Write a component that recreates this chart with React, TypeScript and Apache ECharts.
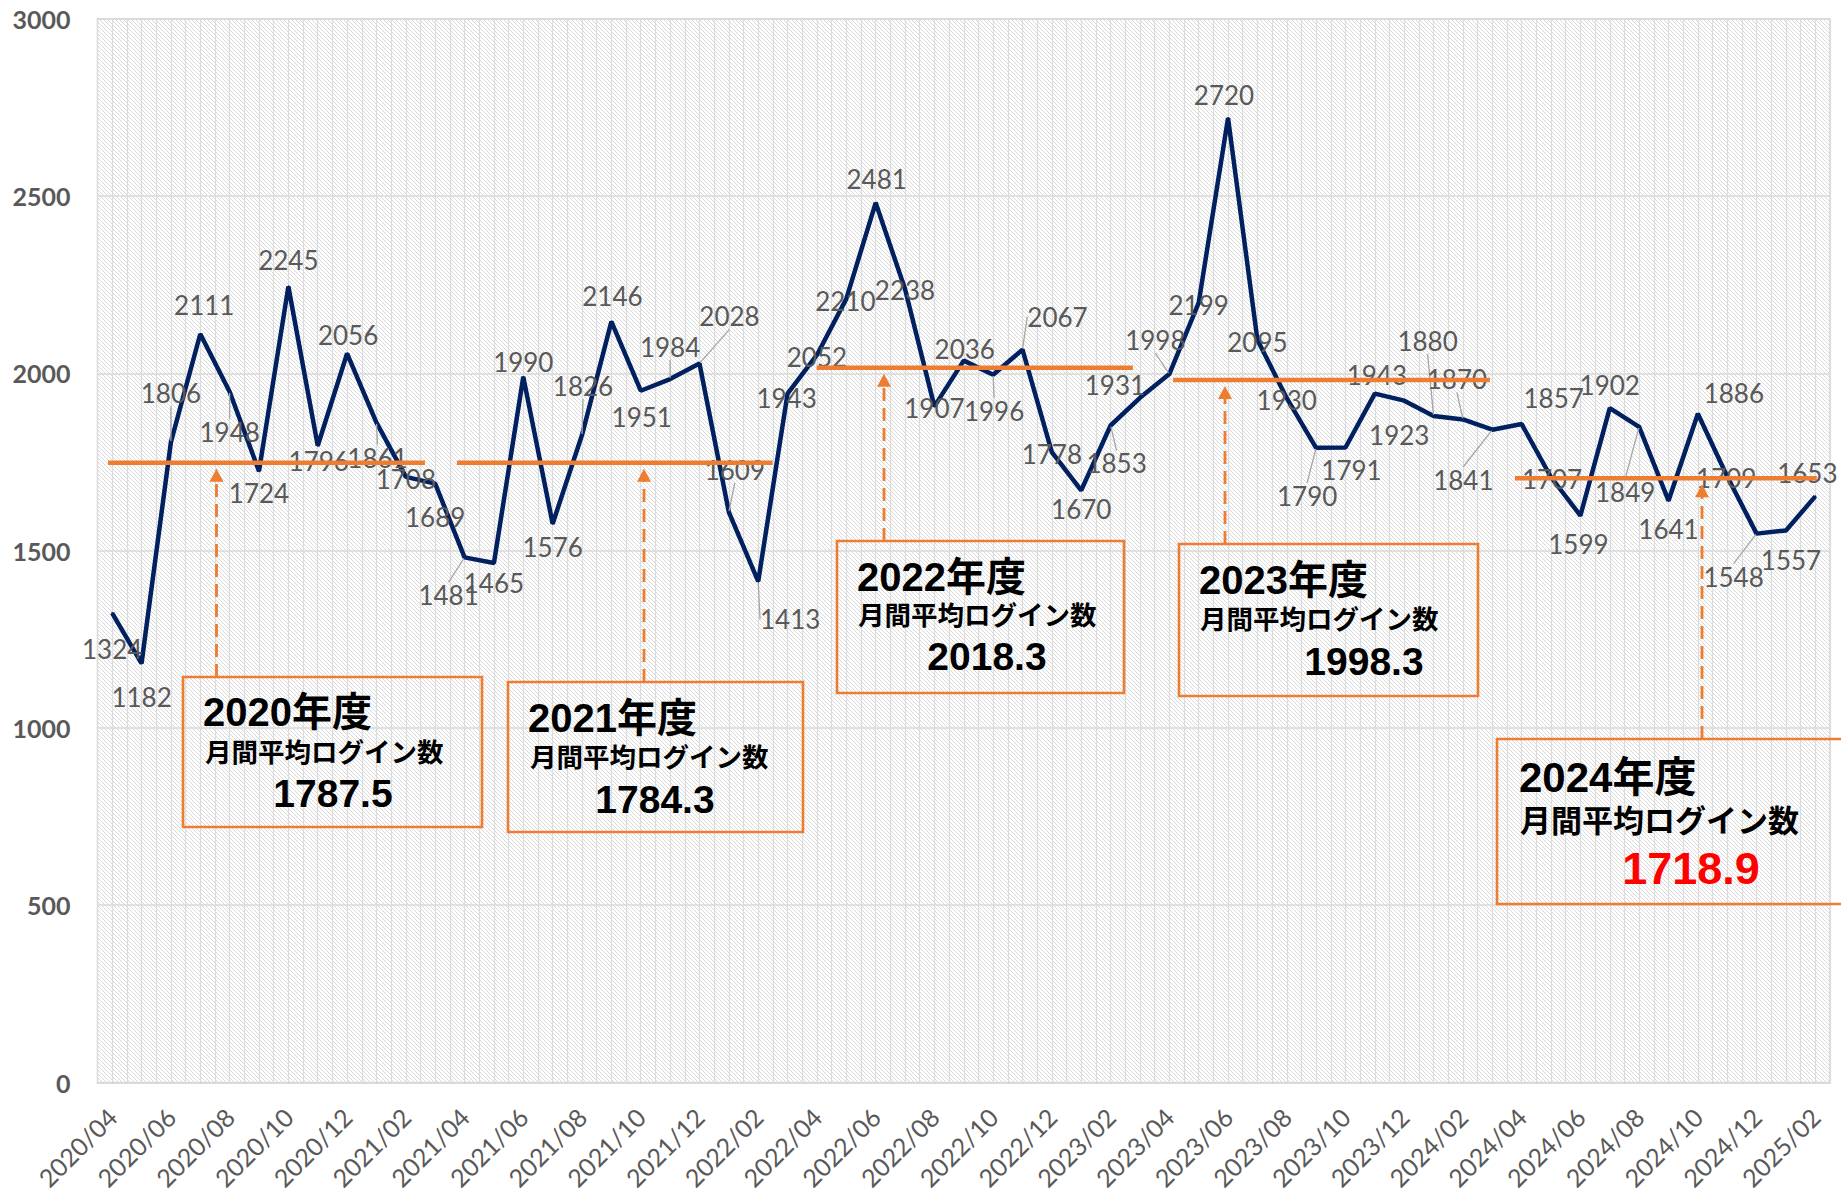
import React, { useEffect, useRef } from "react";
import * as echarts from "echarts";

const months = [
  "2020/04", "2020/05", "2020/06", "2020/07", "2020/08", "2020/09", "2020/10", "2020/11", "2020/12", "2021/01", "2021/02", "2021/03",
  "2021/04", "2021/05", "2021/06", "2021/07", "2021/08", "2021/09", "2021/10", "2021/11", "2021/12", "2022/01", "2022/02", "2022/03",
  "2022/04", "2022/05", "2022/06", "2022/07", "2022/08", "2022/09", "2022/10", "2022/11", "2022/12", "2023/01", "2023/02", "2023/03",
  "2023/04", "2023/05", "2023/06", "2023/07", "2023/08", "2023/09", "2023/10", "2023/11", "2023/12", "2024/01", "2024/02", "2024/03",
  "2024/04", "2024/05", "2024/06", "2024/07", "2024/08", "2024/09", "2024/10", "2024/11", "2024/12", "2025/01", "2025/02",
];

const logins = [
  1324, 1182, 1806, 2111, 1948, 1724, 2245, 1796, 2056, 1861, 1708, 1689,
  1481, 1465, 1990, 1576, 1826, 2146, 1951, 1984, 2028, 1609, 1413, 1943,
  2052, 2210, 2481, 2238, 1907, 2036, 1996, 2067, 1778, 1670, 1853, 1931,
  1998, 2199, 2720, 2095, 1930, 1790, 1791, 1943, 1923, 1880, 1870, 1841,
  1857, 1707, 1599, 1902, 1849, 1641, 1886, 1709, 1548, 1557, 1653,
];

const yTicks = [0, 500, 1000, 1500, 2000, 2500, 3000];

const fyNames = ["2020年度", "2021年度", "2022年度", "2023年度", "2024年度"];
const fyAverageTexts = ["1787.5", "1784.3", "2018.3", "1998.3", "1718.9"];
const fySubTitle = "月間平均ログイン数";
// level at which the orange average bar is drawn in the picture
const fyBarLevels = [1748, 1748, 2016, 1981, 1704];
// extent of each orange bar, in month-index units
const fyBarStart = [-0.14, 11.74, 23.99, 36.13, 47.77];
const fyBarEnd = [10.65, 22.49, 34.76, 46.92, 58.05];

// label offsets (layout only)
const labelOffsets: [number, number][] = [
  [0, 36], [0, 34], [0, -49], [4, -29], [0, 40], [0, 22], [0, -26], [1, 15], [1, -19], [1, 35], [0, 2], [0, 33],
  [-16, 38], [0, 20], [0, -15], [0, 23], [1, -49], [1, -26], [1, 26], [0, -32], [30, -47], [6, -42], [32, 38], [-1, 4],
  [0, 2], [-1, 2], [1, -24], [0, 1], [0, 2], [1, -12], [1, 36], [35, -33], [0, 2], [0, 19], [6, 38], [-25, -13],
  [-14, -34], [0, 2], [-4, -23], [0, 2], [0, 2], [-9, 48], [6, 23], [2, -19], [-5, 34], [-6, -75], [-6, -40], [-29, 50],
  [32, -26], [1, 2], [-2, 28], [0, -23], [-14, 65], [0, 28], [36, -21], [-1, 1], [-23, 43], [5, 30], [-8, -23],
];
const leaderIdx = [2, 4, 9, 12, 16, 19, 20, 21, 22, 30, 31, 34, 36, 41, 45, 46, 47, 52, 56];

// annotation boxes (pixel layout)
const boxes = [
  { x: 183, y: 677, w: 299, h: 150, tdx: 20, tdy: 35, sdx: 22, sdy: 76, vcx: 333, vdy: 116, tSize: 40, sSize: 26.5, vSize: 39, vColor: "#000000", ax: 216.5 },
  { x: 508, y: 682, w: 295, h: 150, tdx: 20, tdy: 36, sdx: 22, sdy: 76, vcx: 655, vdy: 117, tSize: 40, sSize: 26.5, vSize: 39, vColor: "#000000", ax: 644 },
  { x: 837, y: 541, w: 287, h: 152, tdx: 20, tdy: 36, sdx: 21, sdy: 75, vcx: 987, vdy: 115, tSize: 40, sSize: 26.5, vSize: 39, vColor: "#000000", ax: 884 },
  { x: 1179, y: 544, w: 299, h: 152, tdx: 20, tdy: 36, sdx: 21, sdy: 76, vcx: 1364, vdy: 117, tSize: 40, sSize: 26.5, vSize: 39, vColor: "#000000", ax: 1225 },
  { x: 1497, y: 739, w: 352, h: 165, tdx: 22, tdy: 38, sdx: 23, sdy: 82, vcx: 1691, vdy: 129, tSize: 42, sSize: 31, vSize: 45, vColor: "#FF0000", ax: 1702 },
];

const ORANGE = "#ED7D31";
const NAVY = "#002060";
const GRAY = "#595959";
const BOX_FONT = "'Liberation Sans', 'Noto Sans CJK JP', sans-serif";

export default function App() {
  const ref = useRef<HTMLDivElement>(null);

  useEffect(() => {
    if (!ref.current) return;
    const chart = echarts.init(ref.current, null, { renderer: "svg" });

    const cv = document.createElement("canvas");
    cv.width = 8;
    cv.height = 8;
    const ctx = cv.getContext("2d")!;
    ctx.fillStyle = "#ffffff";
    ctx.fillRect(0, 0, 8, 8);
    ctx.fillStyle = "#dadada";
    for (let i = 0; i < 8; i++) {
      ctx.fillRect(i, i, 1, 1);
      ctx.fillRect((i + 4) % 8, i, 1, 1);
    }

    const mainData = logins.map((v, i) => {
      const item: any = {
        value: v,
        label: { offset: labelOffsets[i] },
      };
      if (leaderIdx.includes(i)) {
        item.labelLine = { show: true, lineStyle: { color: "#a6a6a6", width: 1.3 } };
      }
      return item;
    });

    const barSeries = fyBarLevels.map((lv, k) => ({
      type: "line",
      xAxisIndex: 1,
      yAxisIndex: 0,
      data: [
        [fyBarStart[k], lv],
        [fyBarEnd[k], lv],
      ],
      symbol: "none",
      silent: true,
      z: 6,
      lineStyle: { color: ORANGE, width: 4.5 },
    }));

    chart.setOption({
      animation: false,
      grid: {
        left: 97.5,
        right: 11,
        top: 18.8,
        bottom: 110.5,
        show: true,
        backgroundColor: { image: cv, repeat: "repeat", imageWidth: 8, imageHeight: 8 },
        borderColor: "#d9d9d9",
        borderWidth: 1.5,
      },
      xAxis: [
        {
          type: "category",
          data: months,
          boundaryGap: true,
          axisTick: { show: false },
          axisLine: { show: true, lineStyle: { color: "#d9d9d9", width: 2 } },
          splitLine: { show: false },
          axisLabel: {
            interval: 1,
            rotate: 45,
            fontSize: 25,
            color: GRAY,
            fontFamily: "Lato",
            margin: 30,
          },
        },
        {
          type: "value",
          min: -0.5,
          max: 58.5,
          interval: 0.5,
          position: "bottom",
          axisLabel: { show: false },
          axisTick: { show: false },
          axisLine: { show: false },
          splitLine: { show: true, lineStyle: { color: "#dcdcdc", width: 1.2 } },
        },
      ],
      yAxis: {
        type: "value",
        min: yTicks[0],
        max: yTicks[yTicks.length - 1],
        interval: 500,
        axisLine: { show: false },
        axisTick: { show: false },
        axisLabel: {
          fontSize: 25,
          fontWeight: "bold",
          color: GRAY,
          fontFamily: "Lato",
          margin: 27,
          formatter: (v: number) => String(v),
        },
        splitLine: { show: true, lineStyle: { color: "#d9d9d9", width: 1.5 } },
      },
      series: [
        {
          type: "line",
          xAxisIndex: 0,
          yAxisIndex: 0,
          data: mainData,
          symbol: "circle",
          symbolSize: 2,
          showSymbol: true,
          z: 3,
          lineStyle: { color: NAVY, width: 4.5 },
          itemStyle: { color: NAVY },
          label: {
            show: true,
            position: "inside",
            color: GRAY,
            fontSize: 26,
            fontFamily: "Lato",
          },
        },
        ...barSeries,
      ],
    });

    const graphics: any[] = [];
    boxes.forEach((b, k) => {
      const lvPx = chart.convertToPixel({ yAxisIndex: 0 } as any, fyBarLevels[k]) as number;
      const tip = lvPx + 6;
      graphics.push({
        type: "rect",
        shape: { x: b.x, y: b.y, width: b.w, height: b.h },
        style: { fill: "transparent", stroke: ORANGE, lineWidth: 2.6 },
        z: 100,
      });
      graphics.push({
        type: "line",
        shape: { x1: b.ax, y1: b.y, x2: b.ax, y2: tip + 12 },
        style: { stroke: ORANGE, lineWidth: 2.8, lineDash: [13, 7] },
        z: 100,
      });
      graphics.push({
        type: "polygon",
        shape: { points: [[b.ax, tip], [b.ax - 7, tip + 13], [b.ax + 7, tip + 13]] },
        style: { fill: ORANGE },
        z: 100,
      });
      graphics.push({
        type: "text",
        x: b.x + b.tdx,
        y: b.y + b.tdy,
        style: {
          text: fyNames[k],
          fill: "#000000",
          font: `bold ${b.tSize}px ${BOX_FONT}`,
          align: "left",
          verticalAlign: "middle",
        },
        z: 101,
      });
      graphics.push({
        type: "text",
        x: b.x + b.sdx,
        y: b.y + b.sdy,
        style: {
          text: fySubTitle,
          fill: "#000000",
          font: `bold ${b.sSize}px ${BOX_FONT}`,
          align: "left",
          verticalAlign: "middle",
        },
        z: 101,
      });
      graphics.push({
        type: "text",
        x: b.vcx,
        y: b.y + b.vdy,
        style: {
          text: fyAverageTexts[k],
          fill: b.vColor,
          font: `bold ${b.vSize}px ${BOX_FONT}`,
          align: "center",
          verticalAlign: "middle",
        },
        z: 101,
      });
    });

    chart.setOption({ graphic: graphics });

    return () => {
      chart.dispose();
    };
  }, []);

  return (
    <div
      ref={ref}
      style={{ position: "fixed", left: 0, top: 0, width: 1841, height: 1193, background: "#ffffff" }}
    />
  );
}
